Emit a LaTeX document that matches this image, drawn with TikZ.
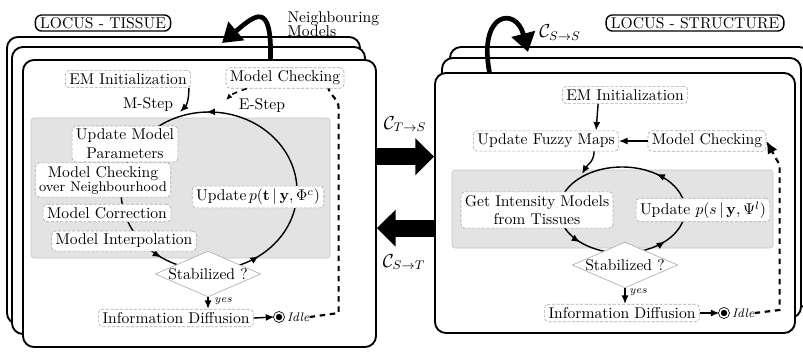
\documentclass[tikz,border=0pt]{standalone}
\usetikzlibrary{arrows.meta,shapes.geometric,positioning,calc,fit,decorations.markings}

\tikzset{
  card/.style={draw=black, line width=1.2pt, rounded corners=7pt, fill=white},
  panel/.style={draw=gray!45, fill=gray!22, rounded corners=2pt},
  box/.style={draw=gray!65, dash pattern=on 2pt off 1pt, rounded corners=2.5pt, fill=white,
    inner xsep=2.5pt, inner ysep=2pt, align=center},
  test/.style={diamond, draw=gray!65, fill=white, aspect=2.3, inner sep=0pt},
  tag/.style={draw=black, line width=0.9pt, rounded corners=4pt, inner xsep=3pt, inner ysep=1.5pt},
  flow/.style={line width=0.9pt, -{Latex[length=5.5pt,width=4.5pt]}},
  ret/.style={line width=1.4pt, dash pattern=on 3.5pt off 3pt},
  bigarrow/.style={line width=11pt, -{Triangle[length=12pt,width=23pt]}},
  hookarrow/.style={line width=3pt, -{Triangle[length=12pt,width=15pt]}},
  idle/.style={circle, draw=black, fill=black, double=white, double distance=1pt,
    line width=0.5pt, inner sep=1.9pt},
  yes/.style={font=\scriptsize\itshape, anchor=west, inner sep=0pt},
  cyc/.style n args={3}{line width=0.9pt, postaction={decorate}, decoration={markings,
    mark=at position #1 with {\arrow{Latex[length=5.5pt,width=4.5pt]}},
    mark=at position #2 with {\arrow{Latex[length=5.5pt,width=4.5pt]}},
    mark=at position #3 with {\arrow{Latex[length=5.5pt,width=4.5pt]}}}}
}

\begin{document}
\begin{tikzpicture}[x=0.0225cm, y=0.0225cm]
\useasboundingbox (0,0) rectangle (803,-351);

% tissue locus
\draw[card] (7,-37) rectangle (360,-324);
\draw[card] (12,-47) rectangle (365,-334);
\node[card, fit={(23,-60) (376,-347)}, inner sep=0pt] (tcard) {};
\node[tag] (ttag) at (103,-23) {LOCUS - TISSUE};
\draw[panel] (31,-118) rectangle (330,-258);

\coordinate (tloop) at (209,-191);
\draw[cyc={0.255}{0.655}{0.85}] (tloop) ellipse [x radius=88, y radius=79];

\node[box] (lemi) at (128,-79) {EM Initialization};
\node[box] (lmc) at (285,-78) {Model Checking};
\node (mstep) at (148,-105) {M-Step};
\node (estep) at (262,-106) {E-Step};
\node[box] (upm) at (125,-144) {Update Model\\Parameters};
\node[box] (mcn) at (103,-180) {Model Checking\\[-3pt]{\small over Neighbourhood}};
\node[box] (mcor) at (107,-213) {Model Correction};
\node[box] (mint) at (124,-241) {Model Interpolation};
\node[box] (lupd) at (258,-197) {Update$\,p(\mathbf{t}\,|\,\mathbf{y},\Phi^{c})$};
\node[test] (lstab) at (208,-274) {Stabilized ?};
\node[box] (ldif) at (176,-318) {Information Diffusion};
\node[idle] (lidle) at (279,-317) {};
\node[right=2pt of lidle, font=\footnotesize\itshape, inner sep=0pt] (lidlet) {Idle};
\node[yes] (lyes) at (214,-301) {yes};
\node[anchor=west, align=left] (nbr) at (282,-24) {Neighbouring\\[-3pt]Models};

\coordinate (lmin) at (180,-112);
\draw[flow] ($(lemi.south east)+(-2,0)$) to[out=-90,in=45] (lmin);
\coordinate (lein) at (226,-100);
\draw[ret, line width=1pt, -{Latex[length=4pt,width=3.5pt]}] ($(lmc.south west)+(21,0)$) to[out=-160,in=45] (lein);
\draw[flow] (lstab.south) -- (lstab.south |- ldif.north);
\draw[flow] (ldif.east) -- (lidle.west);
\draw[ret] (lidlet.east) -- ++(29,4) -- ++(0,205) to[out=90,in=-70] ($(lmc.south east)+(-16,0)$);

% structure locus
\draw[card] (450,-47) rectangle (810,-307);
\draw[card] (442,-58) rectangle (801,-318);
\node[card, fit={(435,-73) (795,-333)}, inner sep=0pt] (scard) {};
\node[tag] (stag) at (695,-23) {LOCUS - STRUCTURE};
\draw[panel] (452,-170) rectangle (773,-248);

\coordinate (sloop) at (622,-210);
\draw[cyc={0.145}{0.62}{0.885}] (sloop) ellipse [x radius=63, y radius=43];

\node[box] (remi) at (625,-95) {EM Initialization};
\node[box] (ufm) at (546,-141) {Update Fuzzy Maps};
\node[box] (rmc) at (707,-141) {Model Checking};
\node[box] (gim) at (537,-210) {Get Intensity Models\\from Tissues};
\node[box] (rupd) at (703,-210) {Update $p(s\,|\,\mathbf{y},\Psi^{l})$};
\node[test] (rstab) at (625,-265) {Stabilized ?};
\node[box] (rdif) at (622,-313) {Information Diffusion};
\node[idle] (ridle) at (724,-313) {};
\node[right=2pt of ridle, font=\footnotesize\itshape, inner sep=0pt] (ridlet) {Idle};
\node[yes] (ryes) at (629,-292) {yes};

\draw[flow] ($(remi.south west)+(36,0)$) -- ($(ufm.north west)+(123,0)$);
\draw[flow] (rmc.west) -- (ufm.east);
\coordinate (rin) at (582,-174);
\draw[flow] ($(ufm.south west)+(121,0)$) to[out=-90,in=60] (rin);
\draw[flow] (rstab.south) -- (rstab.south |- rdif.north);
\draw[flow] (rdif.east) -- (ridle.west);
\draw[ret, -{Latex[length=8pt,width=7pt]}] (ridlet.east) -- ++(25,3) -- ++(0,145) -- (rmc.east);

% between the loci
\coordinate (ts) at ($(tcard.north east)!0.338!(tcard.south east)$);
\coordinate (st) at ($(scard.north west)!0.596!(scard.south west)$);
\draw[bigarrow] (ts) -- (ts -| scard.west);
\draw[bigarrow] (st) -- (st -| tcard.east);
\node (cts) at (405,-124) {\large$\mathcal{C}_{T\rightarrow S}$};
\node (cst) at (404,-262) {\large$\mathcal{C}_{S\rightarrow T}$};

% feedback to the other cards
\coordinate (tout) at ($(tcard.north west)!0.70!(tcard.north east)$);
\coordinate (tback) at (222,-43);
\draw[hookarrow] (tout) .. controls (272,0) and (255,-15) .. (tback);
\coordinate (sout) at ($(scard.north west)!0.153!(scard.north east)$);
\coordinate (sback) at (528,-52);
\draw[hookarrow] (sout) .. controls (478,-12) and (516,-6) .. (sback);
\node (css) at (560,-33) {\large$\mathcal{C}_{S\rightarrow S}$};

\end{tikzpicture}
\end{document}
